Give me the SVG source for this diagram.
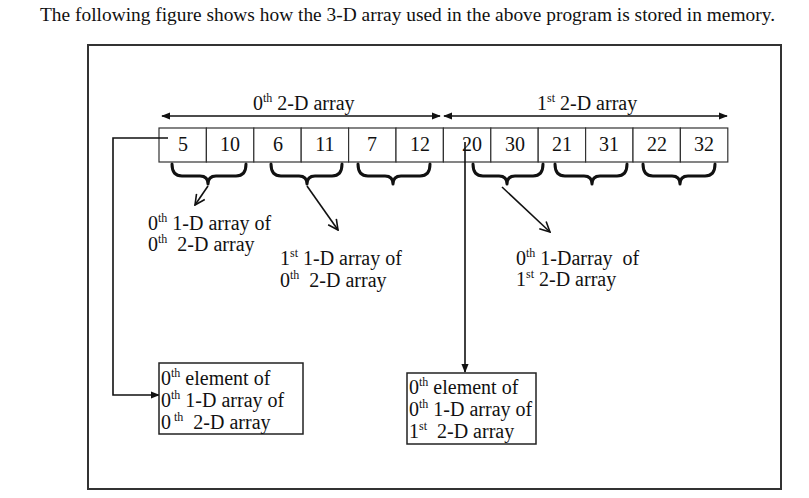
<svg xmlns="http://www.w3.org/2000/svg" width="809" height="498" viewBox="0 0 809 498">
<defs>
<style>
text{font-family:"Liberation Serif","Times New Roman",serif;fill:#111}
.t{font-size:20px}
.n{font-size:20px;text-anchor:middle}
.s{font-size:12px}
.cell{fill:#fff;stroke:#333;stroke-width:1.2}
.box{fill:#fff;stroke:#222;stroke-width:1.5}
.ln{fill:none;stroke:#111;stroke-width:1.6}
.br{fill:none;stroke:#111;stroke-width:3;stroke-linecap:round;stroke-linejoin:round}
</style>
<marker id="ah" viewBox="0 0 10 10" refX="9" refY="5" markerWidth="9" markerHeight="9" markerUnits="userSpaceOnUse" orient="auto-start-reverse">
<path d="M0,1 L10,5 L0,9 z" fill="#111"/>
</marker>
<marker id="va" viewBox="0 0 12 12" refX="11" refY="6" markerWidth="12" markerHeight="12" markerUnits="userSpaceOnUse" orient="auto">
<path d="M1,1 L11,6 L1,11" fill="none" stroke="#111" stroke-width="1.6"/>
</marker>
</defs>
<rect width="809" height="498" fill="#fff"/>
<text x="40" y="21" font-size="18.5" textLength="735" lengthAdjust="spacingAndGlyphs">The following figure shows how the 3-D array used in the above program is stored in memory.</text>
<rect x="88" y="45" width="693" height="444" fill="none" stroke="#333" stroke-width="2"/>

<g id="array">
<rect class="cell" x="159" y="128" width="47.4" height="34"/>
<rect class="cell" x="206.4" y="128" width="47.4" height="34"/>
<rect class="cell" x="253.8" y="128" width="47.4" height="34"/>
<rect class="cell" x="301.2" y="128" width="47.4" height="34"/>
<rect class="cell" x="348.6" y="128" width="47.4" height="34"/>
<rect class="cell" x="396" y="128" width="47.4" height="34"/>
<rect class="cell" x="443.4" y="128" width="47.4" height="34"/>
<rect class="cell" x="490.8" y="128" width="47.4" height="34"/>
<rect class="cell" x="538.2" y="128" width="47.4" height="34"/>
<rect class="cell" x="585.6" y="128" width="47.4" height="34"/>
<rect class="cell" x="633" y="128" width="47.4" height="34"/>
<rect class="cell" x="680.4" y="128" width="47.4" height="34"/>
<text class="n" x="183" y="151">5</text>
<text class="n" x="230" y="151">10</text>
<text class="n" x="278" y="151">6</text>
<text class="n" x="325" y="151">11</text>
<text class="n" x="372" y="151">7</text>
<text class="n" x="420" y="151">12</text>
<text class="n" x="472" y="151">20</text>
<text class="n" x="515" y="151">30</text>
<text class="n" x="562" y="151">21</text>
<text class="n" x="609" y="151">31</text>
<text class="n" x="657" y="151">22</text>
<text class="n" x="704" y="151">32</text>
</g>

<g id="labels-top">
<text class="t" x="253" y="110">0<tspan class="s" dy="-8">th</tspan><tspan dy="8"> 2-D array</tspan></text>
<text class="t" x="537" y="110">1<tspan class="s" dy="-8">st</tspan><tspan dy="8"> 2-D array</tspan></text>
</g>

<g id="braces">
<path class="br" d="M172,164 Q172,176 182,176 L200,176 Q208,176 208,184 Q208,176 216,176 L236,176 Q246,176 246,164"/>
<path class="br" d="M271,164 Q271,176 281,176 L299,176 Q307,176 307,184 Q307,176 315,176 L332,176 Q342,176 342,164"/>
<path class="br" d="M358,164 Q358,176 368,176 L385,176 Q393,176 393,184 Q393,176 401,176 L420,176 Q430,176 430,164"/>
<path class="br" d="M473,164 Q473,176 483,176 L499,176 Q507,176 507,184 Q507,176 515,176 L533,176 Q543,176 543,164"/>
<path class="br" d="M555,164 Q555,176 565,176 L584,176 Q592,176 592,184 Q592,176 600,176 L617,176 Q627,176 627,164"/>
<path class="br" d="M643,164 Q643,176 653,176 L672,176 Q680,176 680,184 Q680,176 688,176 L705,176 Q715,176 715,164"/>
</g>

<g id="connectors">
<line class="ln" x1="162" y1="116" x2="440" y2="116" marker-start="url(#ah)" marker-end="url(#ah)"/>
<line class="ln" x1="444" y1="116" x2="727" y2="116" marker-start="url(#ah)" marker-end="url(#ah)"/>
<polyline class="ln" points="168,138 113,138 113,395 159,395" marker-end="url(#ah)"/>
<line class="ln" x1="465" y1="142" x2="465" y2="372" marker-end="url(#ah)"/>
<line class="ln" x1="208" y1="186" x2="195" y2="205" marker-end="url(#va)"/>
<line class="ln" x1="307" y1="186" x2="338" y2="230" marker-end="url(#va)"/>
<line class="ln" x1="502" y1="187" x2="550" y2="232" marker-end="url(#va)"/>
</g>

<g id="label-a">
<text class="t" x="148" y="230">0<tspan class="s" dy="-8">th</tspan><tspan dy="8"> 1-D array of</tspan></text>
<text class="t" x="148" y="251">0<tspan class="s" dy="-8">th</tspan><tspan dy="8">&#160; 2-D array</tspan></text>
</g>
<g id="label-b">
<text class="t" x="280" y="265">1<tspan class="s" dy="-8">st</tspan><tspan dy="8"> 1-D array of</tspan></text>
<text class="t" x="280" y="287">0<tspan class="s" dy="-8">th</tspan><tspan dy="8">&#160; 2-D array</tspan></text>
</g>
<g id="label-c">
<text class="t" x="516" y="265">0<tspan class="s" dy="-8">th</tspan><tspan dy="8"> 1-Darray&#160; of</tspan></text>
<text class="t" x="516" y="286">1<tspan class="s" dy="-8">st</tspan><tspan dy="8"> 2-D array</tspan></text>
</g>

<g id="box1">
<rect class="box" x="159" y="363" width="144" height="71"/>
<text class="t" x="161" y="385">0<tspan class="s" dy="-8">th</tspan><tspan dy="8"> element of</tspan></text>
<text class="t" x="161" y="407">0<tspan class="s" dy="-8">th</tspan><tspan dy="8"> 1-D array of</tspan></text>
<text class="t" x="161" y="429">0<tspan class="s" dy="-8"> th</tspan><tspan dy="8">&#160; 2-D array</tspan></text>
</g>
<g id="box2">
<rect class="box" x="407" y="373" width="129" height="71"/>
<text class="t" x="409" y="394">0<tspan class="s" dy="-8">th</tspan><tspan dy="8"> element of</tspan></text>
<text class="t" x="409" y="416">0<tspan class="s" dy="-8">th</tspan><tspan dy="8"> 1-D array of</tspan></text>
<text class="t" x="409" y="438">1<tspan class="s" dy="-8">st</tspan><tspan dy="8">&#160; 2-D array</tspan></text>
</g>
</svg>
